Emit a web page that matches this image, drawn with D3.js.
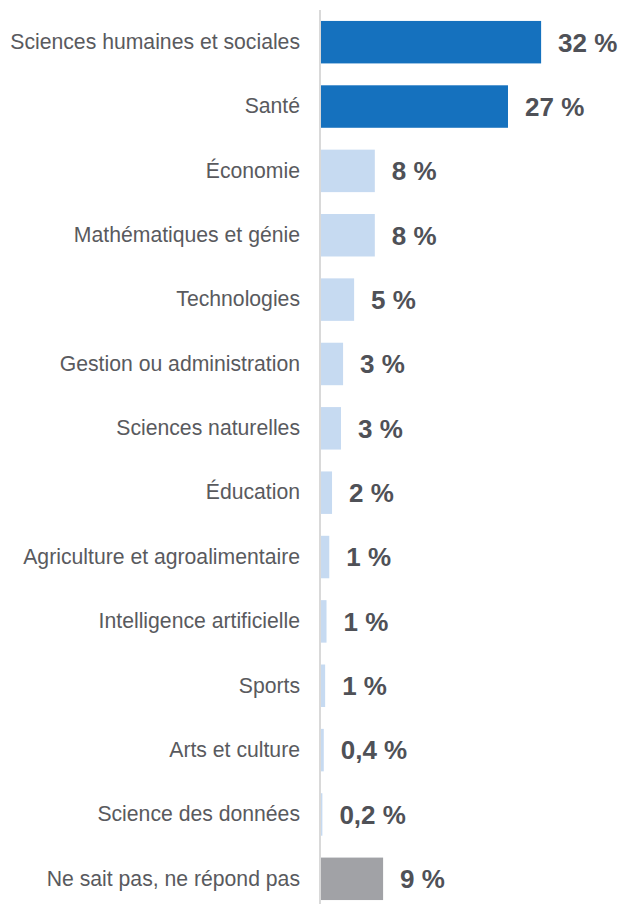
<!DOCTYPE html>
<html>
<head>
<meta charset="utf-8">
<script src="https://cdn.jsdelivr.net/npm/d3@7"></script>
<style>
  body { margin: 0; background: #fff; }
  .axis-y .domain { stroke: #d9d9d9; stroke-width: 2; }
  .axis-y text { font-family: "Liberation Sans", Arial, sans-serif; font-size: 21.2px; fill: #595a5e; }
  .val { font-family: "Liberation Sans", Arial, sans-serif; font-size: 26px; font-weight: bold; fill: #4f5157; }
</style>
</head>
<body>
<div id="canvas"></div>
<script>
var categories = ['Sciences humaines et sociales', 'Santé', 'Économie', 'Mathématiques et génie',
  'Technologies', 'Gestion ou administration', 'Sciences naturelles', 'Éducation',
  'Agriculture et agroalimentaire', 'Intelligence artificielle', 'Sports', 'Arts et culture',
  'Science des données', 'Ne sait pas, ne répond pas'];
var values = [31.9, 27.1, 7.8, 7.8, 4.8, 3.2, 2.9, 1.6, 1.2, 0.8, 0.6, 0.4, 0.2, 9.0];
var valueLabels = ['32 %', '27 %', '8 %', '8 %', '5 %', '3 %', '3 %', '2 %', '1 %', '1 %', '1 %', '0,4 %', '0,2 %', '9 %'];
var groups = ['top', 'top', 'other', 'other', 'other', 'other', 'other', 'other', 'other', 'other', 'other', 'other', 'other', 'nsp'];

var W = 625, H = 904;
var colors = { top: '#1571be', other: '#c6daf1', nsp: '#a1a2a6' };

var svg = d3.select('#canvas').append('svg')
  .attr('width', W).attr('height', H);

var rows = categories.map(function(c, i) {
  return { cat: c, v: values[i], label: valueLabels[i], g: groups[i] };
});

var scaleY = d3.scaleBand()
  .domain(categories)
  .range([10, 911])
  .paddingInner(0.34)
  .paddingOuter(0.17);

var scaleX = d3.scaleLinear()
  .domain([0, 40])
  .range([321, 321 + 276]);

svg.selectAll('rect.bar')
  .data(rows)
  .enter()
  .append('rect')
  .attr('class', 'bar')
  .attr('x', scaleX(0))
  .attr('y', function(d) { return scaleY(d.cat); })
  .attr('width', function(d) { return scaleX(d.v) - scaleX(0); })
  .attr('height', scaleY.bandwidth())
  .style('fill', function(d) { return colors[d.g]; });

svg.selectAll('text.val')
  .data(rows)
  .enter()
  .append('text')
  .attr('class', 'val')
  .attr('x', function(d) { return scaleX(d.v) + 17; })
  .attr('y', function(d) { return scaleY(d.cat) + scaleY.bandwidth() / 2; })
  .attr('dy', '0.36em')
  .text(function(d) { return d.label; });

var axisY = d3.axisLeft(scaleY)
  .tickSize(0)
  .tickSizeOuter(0)
  .tickPadding(20);

svg.append('g').attr('class', 'axis axis-y')
  .attr('transform', 'translate(320,0)')
  .call(axisY)
  .call(function(g) {
    g.select('.domain').attr('d', 'M0,10V' + H);
  });
</script>
</body>
</html>
